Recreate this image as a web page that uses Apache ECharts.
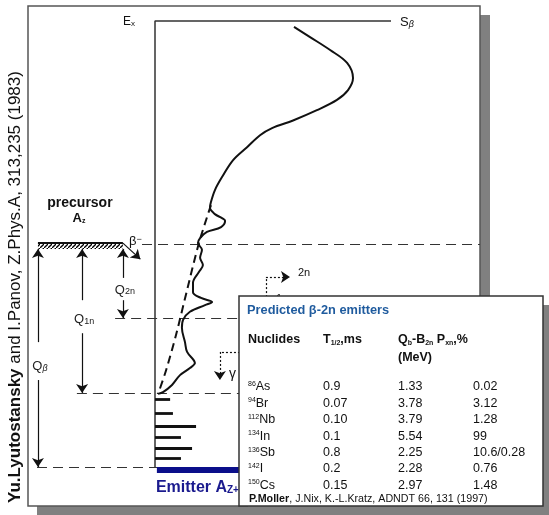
<!DOCTYPE html>
<html><head><meta charset="utf-8">
<script src="https://cdn.jsdelivr.net/npm/echarts@6/dist/echarts.min.js"></script>
<style>html,body{margin:0;padding:0;background:#fff}#c{width:549px;height:515px}</style>
</head><body><div id="c"></div>
<script>
// ---- Diagram data (arbitrary units: S = strength, E = excitation energy, E_x = 10) ----
const strengthS = [5.89,6.57,7.42,8.14,8.39,8.18,7.71,6.86,5.85,4.96,4.45,3.90,3.31,2.84,2.54,2.37,2.33,2.54,2.84,2.97,2.80,2.20,1.91,1.82,1.99,1.91,2.03,1.86,1.61,1.61,1.95,2.42,2.12,1.48,1.19,1.14,1.27,1.36,1.69,1.48,1.06,0.72,0.34,0.13];
const strengthE = [9.87,9.64,9.35,9.06,8.72,8.45,8.23,8.00,7.77,7.60,7.44,7.17,6.88,6.50,6.21,5.94,5.81,5.67,5.58,5.52,5.38,5.27,5.13,5.02,4.87,4.69,4.53,4.37,4.13,3.92,3.79,3.70,3.63,3.48,3.30,3.12,2.80,2.58,2.33,2.22,2.06,1.84,1.68,1.64];
const envelopeS = [2.37,1.86,1.36,0.89,0.47,0.13];
const envelopeE = [5.87,5.02,3.97,2.96,2.17,1.64];
const exLevelE = 10;
const boxWidthS = 10;
const levelNames = ['Qbeta','Q2n','Q1n','ground'];
const levelE = [5.0,3.34,1.66,0];
const levelFromS = [-0.55,-1.69,-3.31,-5.0];
const levelToS = [13.77,13.77,13.77,3.6];
const emitterLevelE = [1.52,1.21,0.92,0.67,0.43,0.20];
const emitterLevelS = [0.64,0.76,1.74,1.10,1.57,1.10];
const groundBarE = -0.07;
const groundBarS = [0.08,3.7];
const precursorS = [-4.96,-1.36];
const precursorE = [5.02,4.89];
const qSub = ['β','1n','2n'];
const qArrowS = [-4.96,-3.09,-1.36];
const qTopE = 4.89;
const qBottomE = [0,1.66,3.34];
const qUpperEndE = [2.80,3.74,4.24];
const qLowerStartE = [1.95,3.0,3.74];
const qLabelE = [2.26,3.30,3.97];
const betaArrowS = [-1.36,-0.62];
const betaArrowE = [5.02,4.66];
const gammaS = [3.6,2.75];
const gammaE = [2.58,1.95];
const twoNS = [4.70,5.72];
const twoNE = [3.81,4.26];

// ---- Table data ----
const tableTitle = 'Predicted β-2n emitters';
const nuclideMass = ['86','94','112','134','136','142','150'];
const nuclideElem = ['As','Br','Nb','In','Sb','I','Cs'];
const halfLifeMs = ['0.9','0.07','0.10','0.1','0.8','0.2','0.15'];
const qMinusB2n = ['1.33','3.78','3.79','5.54','2.25','2.28','2.97'];
const pxnPercent = ['0.02','3.12','1.28','99','10.6/0.28','0.76','1.48'];

const F = 'Arial, "Liberation Sans", Helvetica, sans-serif';
const zip = (a,b)=>a.map((v,i)=>[v,b[i]]);
const chart = echarts.init(document.getElementById('c'), null, {renderer:'canvas'});

chart.setOption({
  animation:false,
  backgroundColor:'#fff',
  grid:{left:155, top:21, width:236, height:446, show:false},
  xAxis:{type:'value', min:0, max:10, show:false},
  yAxis:{type:'value', min:0, max:10, show:false},
  series:[
    {type:'lines', coordinateSystem:'cartesian2d', clip:false, z:2, silent:true,
      data: levelE.map((e,i)=>({coords:[[levelFromS[i],e],[levelToS[i],e]]})),
      lineStyle:{color:'#333', width:1.2, type:[10,6], opacity:1}},
    {type:'line', clip:false, z:3, symbol:'none', data:[[0,0],[0,exLevelE],[boxWidthS,exLevelE]],
      lineStyle:{color:'#333', width:1.5}},
    {type:'line', clip:false, z:4, symbol:'none', smooth:0.3, data:zip(envelopeS, envelopeE),
      lineStyle:{color:'#111', width:2, type:[8,5]}},
    {type:'line', clip:false, z:5, symbol:'none', smooth:0.35, data:zip(strengthS, strengthE),
      lineStyle:{color:'#111', width:2}},
    {type:'lines', coordinateSystem:'cartesian2d', clip:false, z:5,
      data: emitterLevelE.map((e,i)=>({coords:[[0,e],[emitterLevelS[i],e]]})),
      lineStyle:{color:'#111', width:2.8, opacity:1}},
    {type:'lines', coordinateSystem:'cartesian2d', clip:false, z:5,
      data:[{coords:[[groundBarS[0],groundBarE],[groundBarS[1],groundBarE]]}],
      lineStyle:{color:'#0b0f8a', width:6, opacity:1}},
    {type:'lines', coordinateSystem:'cartesian2d', clip:false, z:5,
      data:[{coords:[[precursorS[0],precursorE[0]],[precursorS[1],precursorE[0]]]}],
      lineStyle:{color:'#111', width:2, opacity:1}},
    // solid arrows (arrow at end)
    {type:'lines', coordinateSystem:'cartesian2d', clip:false, z:5, symbol:['none','arrow'], symbolSize:[6,9],
      data: [].concat(
        qArrowS.map((s,i)=>({coords:[[s,qUpperEndE[i]],[s,qTopE]]})),
        qArrowS.map((s,i)=>({coords:[[s,qLowerStartE[i]],[s,qBottomE[i]]]})),
        [{coords:[[betaArrowS[0],betaArrowE[0]],[betaArrowS[1],betaArrowE[1]]]}]
      ),
      lineStyle:{color:'#111', width:1.2, opacity:1}},
    // dotted plain
    {type:'lines', coordinateSystem:'cartesian2d', clip:false, z:5,
      data:[{coords:[[gammaS[0],gammaE[0]],[gammaS[1],gammaE[0]]]},{coords:[[twoNS[0],twoNE[0]],[twoNS[0],twoNE[1]]]}],
      lineStyle:{color:'#111', width:1.2, type:[2,2], opacity:1}},
    // dotted arrows
    {type:'lines', coordinateSystem:'cartesian2d', clip:false, z:5, symbol:['none','arrow'], symbolSize:[6,9],
      data:[{coords:[[gammaS[1],gammaE[0]],[gammaS[1],gammaE[1]]]},{coords:[[twoNS[0],twoNE[1]],[twoNS[1],twoNE[1]]]}],
      lineStyle:{color:'#111', width:1.2, type:[2,2], opacity:1}}
  ]
});

const px = (s,e)=>chart.convertToPixel({gridIndex:0},[s,e]);

// hatch pattern
const pc = document.createElement('canvas'); pc.width=4; pc.height=4;
const g2 = pc.getContext('2d'); g2.fillStyle='#fff'; g2.fillRect(0,0,4,4);
g2.strokeStyle='#000'; g2.lineWidth=1.3; g2.beginPath(); g2.moveTo(-1,5); g2.lineTo(5,-1); g2.stroke();

const G = [];
// outer frame with shadow
G.push({type:'rect', z:0, shape:{x:37,y:15,width:453,height:500}, style:{fill:'#808080'}});
G.push({type:'rect', z:0, shape:{x:28,y:6,width:452,height:500}, style:{fill:'#fff', stroke:'#555', lineWidth:1.5}});
// citation rotated
G.push({type:'text', z:1, x:15, y:287, rotation:Math.PI/2,
  style:{text:'{b|Yu.Lyutostansky}{r| and I.Panov, Z.Phys.A, 313,235 (1983)}', align:'center', verticalAlign:'middle',
    rich:{b:{font:'bold 17px '+F, fill:'#111'}, r:{font:'17px '+F, fill:'#111'}}}});
// precursor hatched bar
const pA = px(precursorS[0],precursorE[0]), pB = px(precursorS[1],precursorE[1]);
G.push({type:'rect', z:1, shape:{x:pA[0], y:pA[1], width:pB[0]-pA[0], height:pB[1]-pA[1]}, style:{fill:{image:pc, repeat:'repeat'}}});
G.push({type:'text', z:1, x:pA[0]+42, y:pA[1]-40, style:{text:'precursor', font:'bold 14px '+F, fill:'#111', align:'center', verticalAlign:'middle'}});
G.push({type:'text', z:1, x:pA[0]+41, y:pA[1]-25, style:{text:'A{s|z}', font:'bold 13px '+F, fill:'#111', align:'center', verticalAlign:'middle',
  rich:{s:{font:'bold 7px '+F, verticalAlign:'bottom', fill:'#111'}}}});
// beta minus label
G.push({type:'text', z:1, x:pB[0]+6, y:pA[1]-2, style:{text:'β{s|−}', font:'13px '+F, fill:'#111', align:'left', verticalAlign:'middle',
  rich:{s:{font:'9px '+F, verticalAlign:'top', fill:'#111'}}}});
// Q labels
qArrowS.forEach((s,i)=>{
  const p = px(s,qLabelE[i]);
  G.push({type:'text', z:1, x:p[0]+2, y:p[1], style:{text:'Q{s|'+qSub[i]+'}', font:'13px '+F, fill:'#222', align:'center', verticalAlign:'middle',
    rich:{s:{font:(i===0?'italic ':'')+'9px '+F, verticalAlign:'bottom', fill:'#222'}}}});
});
// Ex and S_beta
const pEx = px(0,exLevelE), pSb = px(boxWidthS,exLevelE);
G.push({type:'text', z:1, x:pEx[0]-32, y:pEx[1]+1, style:{text:'E{s|x}', font:'12px '+F, fill:'#111', align:'left', verticalAlign:'middle',
  rich:{s:{font:'8px '+F, verticalAlign:'bottom', fill:'#111'}}}});
G.push({type:'text', z:1, x:pSb[0]+9, y:pSb[1]+1, style:{text:'S{s|β}', font:'13px '+F, fill:'#111', align:'left', verticalAlign:'middle',
  rich:{s:{font:'italic 9px '+F, verticalAlign:'bottom', fill:'#111'}}}});
// gamma, 2n, 1n
const pG = px(gammaS[1],gammaE[1]);
G.push({type:'text', z:1, x:pG[0]+9, y:pG[1]-6, style:{text:'γ', font:'14px '+F, fill:'#111', align:'left', verticalAlign:'middle'}});
const p2n = px(twoNS[1],twoNE[1]);
G.push({type:'text', z:1, x:p2n[0]+8, y:p2n[1]-4, style:{text:'2n', font:'11px '+F, fill:'#111', align:'left', verticalAlign:'middle'}});
G.push({type:'text', z:1, x:p2n[0]-14, y:p2n[1]+22, style:{text:'1n', font:'11px '+F, fill:'#111', align:'left', verticalAlign:'middle'}});
// Emitter label
const pGr = px(groundBarS[0],groundBarE);
G.push({type:'text', z:1, x:pGr[0]-1, y:pGr[1]+17, style:{text:'Emitter A{s|Z+2}', font:'bold 16px '+F, fill:'#1a1a8e', align:'left', verticalAlign:'middle',
  rich:{s:{font:'bold 10px '+F, verticalAlign:'bottom', fill:'#1a1a8e'}}}});

// Table
const TZ = 20;
G.push({type:'rect', z:TZ, shape:{x:248,y:305,width:310,height:215}, style:{fill:'#808080'}});
G.push({type:'rect', z:TZ, shape:{x:239,y:296,width:304,height:210}, style:{fill:'#fff', stroke:'#333', lineWidth:1.5}});
G.push({type:'text', z:TZ, x:247, y:310, style:{text:tableTitle, font:'bold 12.8px '+F, fill:'#1f5b9e', align:'left', verticalAlign:'middle'}});
const hdrRich = {s:{font:'bold 7px '+F, verticalAlign:'bottom', fill:'#111'}};
G.push({type:'text', z:TZ, x:248, y:340, style:{text:'Nuclides', font:'bold 12.5px '+F, fill:'#111', align:'left', verticalAlign:'middle'}});
G.push({type:'text', z:TZ, x:323, y:340, style:{text:'T{s|1/2},ms', font:'bold 12.5px '+F, fill:'#111', align:'left', verticalAlign:'middle', rich:hdrRich}});
G.push({type:'text', z:TZ, x:398, y:340, style:{text:'Q{s|b}-B{s|2n} P{s|xn},%', font:'bold 12.5px '+F, fill:'#111', align:'left', verticalAlign:'middle', rich:hdrRich}});
G.push({type:'text', z:TZ, x:398, y:358, style:{text:'(MeV)', font:'bold 12.5px '+F, fill:'#111', align:'left', verticalAlign:'middle'}});
const rowY0 = 387, rowDy = 16.4;
nuclideElem.forEach((el,i)=>{
  const y = rowY0 + i*rowDy;
  G.push({type:'text', z:TZ, x:248, y:y, style:{text:'{m|'+nuclideMass[i]+'}'+el, font:'12.5px '+F, fill:'#111', align:'left', verticalAlign:'middle',
    rich:{m:{font:'7px '+F, verticalAlign:'top', fill:'#111'}}}});
  G.push({type:'text', z:TZ, x:323, y:y, style:{text:halfLifeMs[i], font:'12.5px '+F, fill:'#111', align:'left', verticalAlign:'middle'}});
  G.push({type:'text', z:TZ, x:398, y:y, style:{text:qMinusB2n[i], font:'12.5px '+F, fill:'#111', align:'left', verticalAlign:'middle'}});
  G.push({type:'text', z:TZ, x:473, y:y, style:{text:pxnPercent[i], font:'12.5px '+F, fill:'#111', align:'left', verticalAlign:'middle'}});
});
G.push({type:'text', z:TZ, x:249, y:499, style:{text:'{b|P.Moller}, J.Nix, K.-L.Kratz, ADNDT 66, 131 (1997)', font:'10.7px '+F, fill:'#111', align:'left', verticalAlign:'middle',
  rich:{b:{font:'bold 10.7px '+F, fill:'#111'}}}});

chart.setOption({graphic:{elements:G}});
</script>
</body></html>
